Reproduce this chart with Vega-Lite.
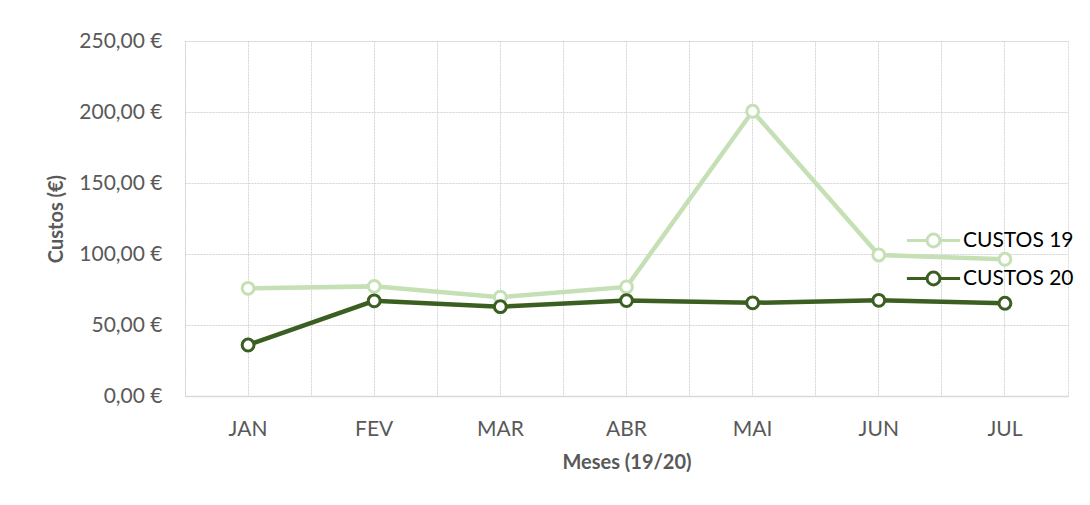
{
  "$schema": "https://vega.github.io/schema/vega-lite/v6.json",
  "width": 883,
  "height": 355,
  "autosize": {"type": "none"},
  "padding": {"left": 185, "top": 41, "right": 22, "bottom": 109},
  "background": "white",
  "config": {
    "font": "Lato",
    "view": {"stroke": "#d9d9d9", "strokeDash": [2, 1], "strokeWidth": 1}
  },
  "data": {
    "values": [
      {"mes": "JAN", "serie": "CUSTOS 19", "valor": 75.8},
      {"mes": "FEV", "serie": "CUSTOS 19", "valor": 77.2},
      {"mes": "MAR", "serie": "CUSTOS 19", "valor": 69.6},
      {"mes": "ABR", "serie": "CUSTOS 19", "valor": 76.8},
      {"mes": "MAI", "serie": "CUSTOS 19", "valor": 200.5},
      {"mes": "JUN", "serie": "CUSTOS 19", "valor": 99.3},
      {"mes": "JUL", "serie": "CUSTOS 19", "valor": 96.3},
      {"mes": "JAN", "serie": "CUSTOS 20", "valor": 35.9},
      {"mes": "FEV", "serie": "CUSTOS 20", "valor": 67.0},
      {"mes": "MAR", "serie": "CUSTOS 20", "valor": 62.9},
      {"mes": "ABR", "serie": "CUSTOS 20", "valor": 67.2},
      {"mes": "MAI", "serie": "CUSTOS 20", "valor": 65.6},
      {"mes": "JUN", "serie": "CUSTOS 20", "valor": 67.4},
      {"mes": "JUL", "serie": "CUSTOS 20", "valor": 65.3}
    ]
  },
  "layer": [
    {
      "mark": {"type": "line", "strokeWidth": 4.5},
      "encoding": {
        "x": {
          "field": "mes", "type": "nominal", "sort": null,
          "scale": {"type": "band", "paddingInner": 0, "paddingOuter": 0},
          "axis": {
            "orient": "bottom", "bandPosition": 0, "grid": true, "labels": false,
            "ticks": false, "domain": false, "title": null,
            "gridColor": "#d4d4d4", "gridDash": [2, 1], "gridWidth": 1
          }
        },
        "y": {
          "field": "valor", "type": "quantitative",
          "scale": {"domain": [0, 250], "nice": false, "zero": true},
          "axis": {
            "values": [0, 50, 100, 150, 200, 250],
            "labelExpr": "replace(format(datum.value, '.2f'), '.', ',') + ' €'",
            "domain": false, "ticks": false, "grid": true,
            "gridColor": "#d4d4d4", "gridDash": [2, 1], "gridWidth": 1,
            "labelFont": "Lato", "labelFontSize": 21, "labelColor": "#595959", "labelPadding": 23,
            "title": "Custos (€)", "titleFont": "Lato", "titleFontSize": 20, "titleFontWeight": "bold",
            "titleColor": "#595959", "titlePadding": 12
          }
        },
        "color": {
          "field": "serie", "type": "nominal",
          "scale": {"domain": ["CUSTOS 19", "CUSTOS 20"], "range": ["#c5e0b4", "#3b5e21"]},
          "legend": {
            "title": null, "orient": "none", "legendX": 727, "legendY": 178, "padding": 0,
            "symbolType": "M-1.33,0L-0.32,0M0.32,0L1.33,0M-0.32,0A0.32,0.32 0 1,0 0.32,0A0.32,0.32 0 1,0 -0.32,0Z",
            "symbolSize": 1600, "symbolStrokeWidth": 3, "symbolFillColor": "white",
            "labelFont": "Lato", "labelFontSize": 21, "labelColor": "#000000", "labelOffset": 8,
            "rowPadding": 4
          }
        }
      }
    },
    {
      "mark": {"type": "point", "filled": false, "fill": "white", "size": 140, "strokeWidth": 3, "opacity": 1, "shape": "circle"},
      "encoding": {
        "x": {
          "field": "mes", "type": "nominal", "sort": null,
          "axis": {
            "orient": "bottom", "grid": true, "ticks": false, "domain": true,
            "domainColor": "#d9d9d9", "domainWidth": 1.5,
            "gridColor": "#d4d4d4", "gridDash": [2, 1], "gridWidth": 1,
            "labelAngle": 0, "labelFont": "Lato", "labelFontSize": 21, "labelColor": "#595959", "labelPadding": 22,
            "title": "Meses (19/20)", "titleFont": "Lato", "titleFontSize": 20, "titleFontWeight": "bold",
            "titleColor": "#595959", "titlePadding": 13
          }
        },
        "y": {"field": "valor", "type": "quantitative"},
        "color": {"field": "serie", "type": "nominal"}
      }
    }
  ],
  "resolve": {"axis": {"x": "independent"}}
}
